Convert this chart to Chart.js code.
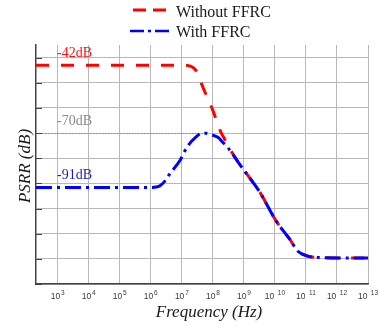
<!DOCTYPE html>
<html>
<head>
<meta charset="UTF-8">
<title>PSRR</title>
<script src="https://cdn.jsdelivr.net/npm/chart.js"></script>
<style>
  html, body { margin: 0; padding: 0; background: #fff; }
  #wrap { width: 379px; height: 327px; position: relative; }
</style>
</head>
<body>
<div id="wrap"><canvas id="psrrChart"></canvas></div>
<script>
  // data
  const freqRed = [200, 1e7, 2e7, 3.2e7, 4.5e7, 7e7, 1e8, 1.4e8, 1.8e8, 2.5e8, 3.3e8, 7.4e8, 1.07e9, 3.3e9, 1.1e10, 3e10, 5.5e10, 1.07e11, 3.5e11, 1e13];
  const psrrRed = [-43, -43, -43.5, -46, -51, -56.5, -61, -66, -69.5, -72.8, -75.7, -82.5, -85.2, -93.6, -105, -112.2, -117, -118.8, -119.5, -119.7];

  const freqBlue = [200, 1.1e6, 1.9e6, 2.8e6, 4e6, 8.7e6, 1.45e7, 3e7, 4.8e7, 8e7, 1.45e8, 2.1e8, 3e8, 7.4e8, 1.07e9, 3.3e9, 1.1e10, 3e10, 5.5e10, 1.07e11, 3.5e11, 1e13];
  const psrrBlue = [-91.6, -91.6, -91.1, -89.2, -86.4, -80.9, -75.7, -71.3, -69.9, -70.5, -71.7, -73.7, -75.7, -82.5, -85.2, -93.6, -105, -112.2, -117, -118.8, -119.5, -119.7];

  const xTicks = [1e3, 1e4, 1e5, 1e6, 1e7, 1e8, 1e9, 1e10, 1e11, 1e12, 1e13];
  const yTicks = [-130, -120, -110, -100, -90, -80, -70, -60, -50, -40];

  const seriesNames = ["Without FFRC", "With FFRC"];
  const notes = [
    { text: "-42dB", y: -43, color: "#ff1010" },
    { text: "-70dB", y: -70, color: "#8a8a8a" },
    { text: "-91dB", y: -91.6, color: "#1c1cb0" }
  ];

  const toPts = (xs, ys) => xs.map((x, i) => ({ x: x, y: ys[i] }));

  const RED = "#ff0000";
  const BLUE = "#0000ff";
  const serif = "'Liberation Serif', 'Times New Roman', serif";
  const sans = "'Liberation Sans', Arial, sans-serif";

  const extras = {
    id: "extras",
    beforeDatasetsDraw(chart) {
      const ctx = chart.ctx;
      const { left } = chart.chartArea;
      const x = chart.scales.x, y = chart.scales.y;
      ctx.save();
      // dotted -70 dB reference
      ctx.strokeStyle = "#8c8c8c";
      ctx.lineWidth = 1.2;
      ctx.setLineDash([1.5, 1.5]);
      const yy = Math.round(y.getPixelForValue(-70)) + 0.5;
      ctx.beginPath();
      ctx.moveTo(left, yy);
      ctx.lineTo(x.getPixelForValue(5.5e7), yy);
      ctx.stroke();
      ctx.setLineDash([]);
      // inner tick marks on y axis
      ctx.strokeStyle = "#444";
      ctx.lineWidth = 1;
      yTicks.forEach(v => {
        const p = Math.round(y.getPixelForValue(v)) + 0.5;
        ctx.beginPath();
        ctx.moveTo(left, p);
        ctx.lineTo(left + 6, p);
        ctx.stroke();
      });
      ctx.restore();
    },
    afterDraw(chart) {
      const ctx = chart.ctx;
      const x = chart.scales.x, y = chart.scales.y;
      const { bottom } = chart.chartArea;
      ctx.save();
      // x tick labels: 10 with raised exponent
      ctx.fillStyle = "#3a3a3a";
      ctx.textBaseline = "alphabetic";
      ctx.textAlign = "left";
      xTicks.forEach(v => {
        const e = String(Math.round(Math.log10(v)));
        const px = x.getPixelForValue(v);
        ctx.font = "8.5px " + sans;
        const w1 = ctx.measureText("10").width;
        ctx.font = "6.5px " + sans;
        const w2 = ctx.measureText(e).width;
        const gap = e.length > 1 ? 3.5 : 0.8;
        const start = px - (w1 + gap + w2) / 2;
        ctx.font = "8.5px " + sans;
        ctx.fillText("10", start, bottom + 14.7);
        ctx.font = "6.5px " + sans;
        ctx.fillText(e, start + w1 + gap, bottom + 10.5);
      });
      // notes
      ctx.font = "14px " + serif;
      notes.forEach(n => {
        ctx.fillStyle = n.color;
        ctx.fillText(n.text, 57, y.getPixelForValue(n.y) - 8);
      });
      // axis titles
      ctx.fillStyle = "#1a1a1a";
      ctx.font = "italic 17px " + serif;
      ctx.textAlign = "center";
      ctx.fillText("Frequency (Hz)", 209, 317);
      ctx.save();
      ctx.translate(30, 166);
      ctx.rotate(-Math.PI / 2);
      ctx.fillText("PSRR (dB)", 0, 0);
      ctx.restore();
      // legend
      ctx.textAlign = "left";
      ctx.font = "16px " + serif;
      ctx.fillStyle = "#1a1a1a";
      ctx.fillText(seriesNames[0], 176, 17);
      ctx.fillText(seriesNames[1], 176, 37);
      ctx.lineWidth = 3;
      ctx.strokeStyle = RED;
      ctx.setLineDash([13, 7]);
      ctx.beginPath();
      ctx.moveTo(133, 10);
      ctx.lineTo(167, 10);
      ctx.stroke();
      ctx.strokeStyle = BLUE;
      ctx.lineWidth = 2.5;
      ctx.setLineDash([14, 4, 3, 4]);
      ctx.beginPath();
      ctx.moveTo(130, 31);
      ctx.lineTo(170, 31);
      ctx.stroke();
      ctx.restore();
    }
  };

  new Chart(document.getElementById("psrrChart"), {
    type: "line",
    data: {
      datasets: [
        {
          label: seriesNames[0],
          data: toPts(freqRed, psrrRed),
          borderColor: RED,
          borderWidth: 3,
          borderDash: [13, 12],
          pointRadius: 0,
          cubicInterpolationMode: "monotone",
          order: 2
        },
        {
          label: seriesNames[1],
          data: toPts(freqBlue, psrrBlue),
          borderColor: BLUE,
          borderWidth: 3,
          borderDash: [16, 5, 3, 5],
          pointRadius: 0,
          cubicInterpolationMode: "monotone",
          order: 1
        }
      ]
    },
    options: {
      responsive: true,
      maintainAspectRatio: false,
      animation: false,
      layout: { padding: { top: 45, right: 11, left: 0, bottom: 0 } },
      plugins: { legend: { display: false }, tooltip: { enabled: false } },
      scales: {
        x: {
          type: "logarithmic",
          min: 200,
          max: 1e13,
          afterBuildTicks: s => { s.ticks = xTicks.map(v => ({ value: v })); },
          afterFit: s => { s.height = 43; },
          grid: { color: "#b8b8b8", lineWidth: 1, drawTicks: false },
          border: { color: "#444", width: 1.5 },
          ticks: { display: false }
        },
        y: {
          type: "linear",
          min: -130,
          max: -35,
          afterBuildTicks: s => { s.ticks = yTicks.map(v => ({ value: v })); },
          afterFit: s => { s.width = 36; },
          grid: { color: "#b8b8b8", lineWidth: 1, drawTicks: false },
          border: { color: "#444", width: 1.5 },
          ticks: { display: false }
        }
      }
    },
    plugins: [extras]
  });
</script>
</body>
</html>
